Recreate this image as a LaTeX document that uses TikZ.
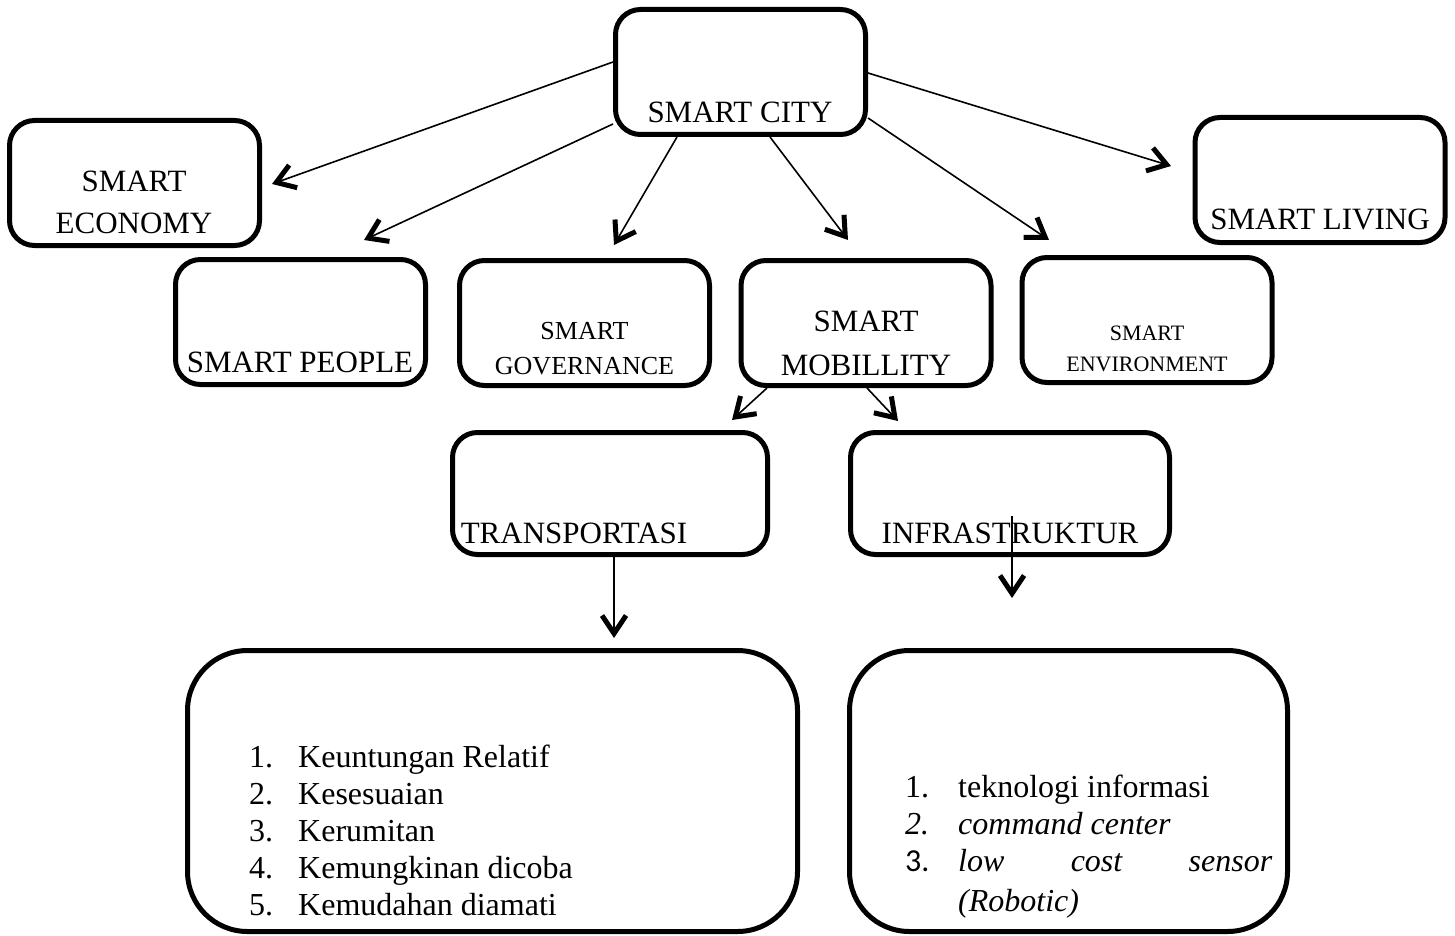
\documentclass[tikz,border=0pt]{standalone}
\usepackage{fontspec}
\setmainfont{Liberation Serif}
\newfontfamily\numsans{Carlito}
\usetikzlibrary{arrows.meta,calc}
\begin{document}
\begin{tikzpicture}[x=1pt,y=-1pt,
  box/.style={draw, line width=5pt, rounded corners=25pt, minimum width=250pt, minimum height=125pt, inner sep=0pt},
  bigbox/.style={draw, line width=5pt, rounded corners=60pt, inner sep=0pt, minimum height=281pt},
  lbl/.style={font=\fontsize{31}{36}\selectfont, inner sep=0pt, anchor=base},
  midlbl/.style={font=\fontsize{26}{30}\selectfont, inner sep=0pt, anchor=base},
  smalllbl/.style={font=\fontsize{22}{26}\selectfont, inner sep=0pt, anchor=base},
  item/.style={font=\fontsize{32}{36}\selectfont, inner sep=0pt, anchor=base west},
  arr/.style={line width=1.6pt, -{Straight Barb[length=18pt,width=24pt,line width=5pt]}},
]
\useasboundingbox (0,0) rectangle (1455,936);

% boxes
\node[box] (city) at (740.5,72) {};
\node[box] (eco) at (134.5,183) {};
\node[box] (people) at (300.5,322) {};
\node[box] (gov) at (584.5,323) {};
\node[box] (mob) at (866,323) {};
\node[box] (env) at (1147,320) {};
\node[box] (liv) at (1320,180) {};
\node[box, minimum width=315pt, minimum height=122pt] (trans) at (610,493.5) {};
\node[box, minimum width=319pt, minimum height=122pt] (infra) at (1010,493.5) {};
\node[bigbox, minimum width=610pt] (list1) at (492.5,791) {};
\node[bigbox, minimum width=438pt] (list2) at (1068.5,791) {};

% labels
\node[lbl] (tcity) at (740,122.5) {SMART CITY};
\node[lbl] (teco1) at (134,192) {SMART};
\node[lbl] (teco2) at (134,233) {ECONOMY};
\node[lbl] (tpeople) at (300,372) {SMART PEOPLE};
\node[midlbl] (tgov1) at (584.5,339) {SMART};
\node[midlbl] (tgov2) at (584.5,374) {GOVERNANCE};
\node[lbl] (tmob1) at (866,331) {SMART};
\node[lbl] (tmob2) at (866,375) {MOBILLITY};
\node[smalllbl] (tenv1) at (1147,340) {SMART};
\node[smalllbl] (tenv2) at (1147,371) {ENVIRONMENT};
\node[lbl] (tliv) at (1320,229) {SMART LIVING};
\node[lbl] (ttrans) at (574,543) {TRANSPORTASI};
\node[lbl] (tinfra) at (1010,543) {INFRASTRUKTUR};

% left list
\node[item] (n1) at (249,767) {1.};
\node[item] (i1) at (298,767) {Keuntungan Relatif};
\node[item] (n2) at (249,804) {2.};
\node[item] (i2) at (298,804) {Kesesuaian};
\node[item] (n3) at (249,841) {3.};
\node[item] (i3) at (298,841) {Kerumitan};
\node[item] (n4) at (249,878) {4.};
\node[item] (i4) at (298,878) {Kemungkinan dicoba};
\node[item] (n5) at (249,915) {5.};
\node[item] (i5) at (298,915) {Kemudahan diamati};

% right list
\node[item] (m1) at (905,797) {1.};
\node[item] (j1) at (958,797) {teknologi informasi};
\node[item] (m2) at (905,834) {\itshape 2.};
\node[item] (j2) at (958,834) {\itshape command center};
\node[item] (m3) at (905,871) {\numsans 3.};
\node[item] (j3) at (958,871) {\hbox to 314pt{\itshape low\hfill cost\hfill sensor}};
\node[item] (j4) at (958,911) {\itshape (Robotic)};

% arrow tips (free ends)
\coordinate (aEco) at (272,184);
\coordinate (aPeople) at (364,240);
\coordinate (aGov) at (614,245);
\coordinate (aMob) at (848,240);
\coordinate (aEnv) at (1049,240);
\coordinate (aLiv) at (1171,166);
\coordinate (aTrans) at (732,420);
\coordinate (aInfra) at (898,421);
\coordinate (aList1) at (614,638);
\coordinate (sInfra) at (1012,516);
\coordinate (aList2) at (1012,598);

% connectors
\draw[arr] (city.west |- 0,62) -- (aEco);
\draw[arr] (city.west |- 0,124) -- (aPeople);
\draw[arr] (city.south -| 677,0) -- (aGov);
\draw[arr] (city.south -| 770,0) -- (aMob);
\draw[arr] (city.east |- 0,118) -- (aEnv);
\draw[arr] (city.east |- 0,73) -- (aLiv);
\draw[arr] (mob.south -| 767,0) -- (aTrans);
\draw[arr] (mob.south -| 867,0) -- (aInfra);
\draw[arr] (trans.south -| 614,0) -- (aList1);
\draw[arr] (sInfra) -- (aList2);
\end{tikzpicture}
\end{document}
